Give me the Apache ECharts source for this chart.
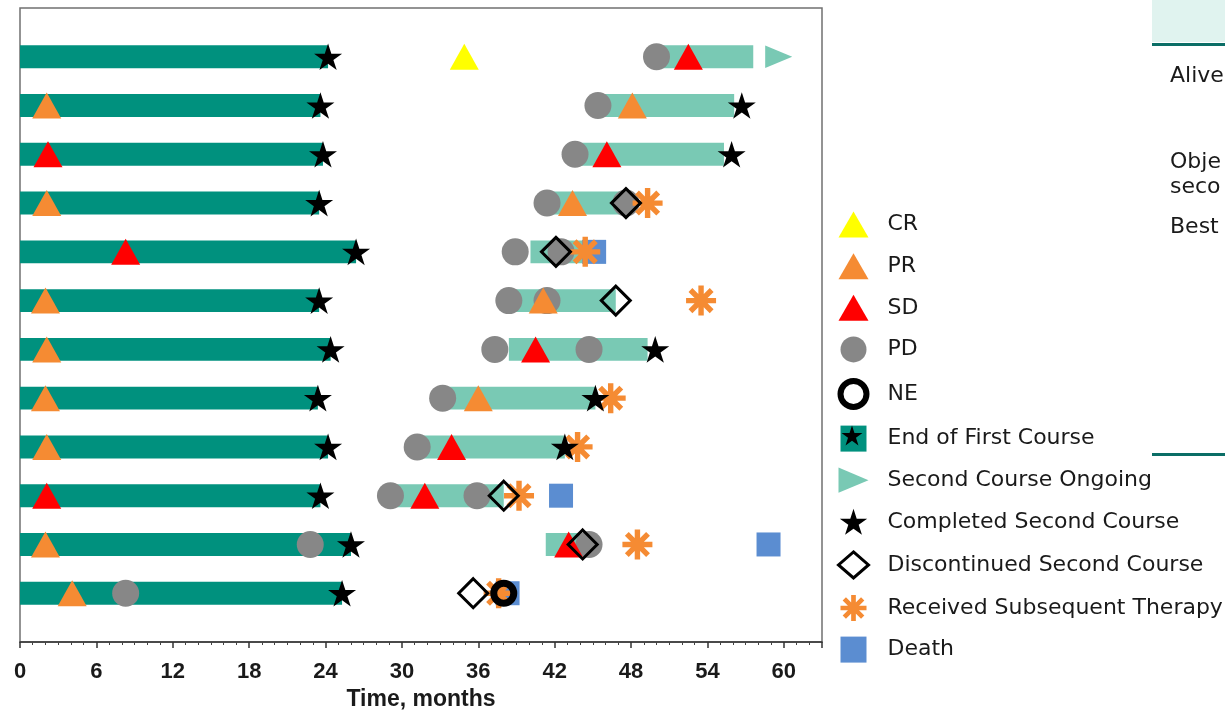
<!DOCTYPE html>
<html>
<head>
<meta charset="utf-8">
<script src="https://cdn.jsdelivr.net/npm/echarts@6/dist/echarts.min.js"></script>
<style>
html,body{margin:0;padding:0;background:#fff;}
#chart{width:1225px;height:711px;}
</style>
</head>
<body>
<div id="chart"></div>
<script>
// ---- data (months, patient row 1..12 from top) ----
const firstCourseEnd = [24.2, 23.6, 23.8, 23.5, 26.4, 23.5, 24.4, 23.4, 24.2, 23.6, 26.0, 25.3];
const secondCourse = [ // [start, end, row]
  [50.0, 57.6, 1], [45.4, 56.1, 2], [43.6, 55.3, 3], [41.4, 47.4, 4], [40.1, 46.0, 5],
  [38.4, 46.8, 6], [38.4, 49.3, 7], [33.2, 45.2, 8], [31.2, 42.8, 9], [29.1, 38.0, 10],
  [41.3, 44.0, 11]
];
const crPoints = [[34.9, 1]];
const prPoints = [[2.1, 2], [2.1, 4], [2.0, 6], [2.1, 7], [2.0, 8], [2.1, 9], [2.0, 11], [4.1, 12],
  [48.1, 2], [43.4, 4], [41.1, 6], [36.0, 8]];
const sdPoints = [[2.2, 3], [8.3, 5], [2.1, 10], [52.5, 1], [46.1, 3], [40.5, 7], [33.9, 9], [31.8, 10], [43.1, 11]];
const pdPoints = [[50.0, 1], [45.4, 2], [43.6, 3], [41.4, 4], [47.6, 4], [38.9, 5], [42.5, 5], [38.4, 6], [41.4, 6],
  [37.3, 7], [44.7, 7], [33.2, 8], [31.2, 9], [29.1, 10], [35.9, 10], [22.8, 11], [44.7, 11], [8.3, 12]];
const nePoints = [[38.0, 12]];
const ongoingPoints = [[59.6, 1]];
const completedPoints = [[56.7, 2], [55.9, 3], [49.9, 7], [45.2, 8], [42.8, 9]];
const discontinuedPoints = [[47.6, 4], [42.1, 5], [46.8, 6], [38.0, 10], [44.2, 11], [35.6, 12]];
const subsequentPoints = [[49.3, 4], [44.4, 5], [53.5, 6], [46.4, 8], [43.8, 9], [39.2, 10], [48.5, 11], [37.6, 12]];
const deathPoints = [[45.1, 5], [42.5, 10], [58.8, 11], [38.3, 12]];
const xTickValues = [0, 6, 12, 18, 24, 30, 36, 42, 48, 54, 60];
const xTitle = 'Time, months';
const legendNames = ['CR', 'PR', 'SD', 'PD', 'NE', 'End of First Course', 'Second Course Ongoing',
  'Completed Second Course', 'Discontinued Second Course', 'Received Subsequent Therapy', 'Death'];
const tableTexts = ['Alive', 'Obje', 'seco', 'Best'];

// ---- styles ----
const C = {
  dark: '#00917e', light: '#79c9b4', gray: '#878787', orange: '#f58b33', red: '#ff0000',
  yellow: '#ffff00', blue: '#5b8dd1', black: '#000000'
};
const STAR_PTS = [[50, 0], [61.17, 34.63], [97.55, 34.55], [68.07, 55.87], [79.39, 90.45], [50, 69],
  [20.61, 90.45], [31.93, 55.87], [2.45, 34.55], [38.83, 34.63]];
const STAR = 'M' + STAR_PTS.map(p => p[0] + ' ' + p[1]).join('L') + 'Z';
const ASTER = 'M0 41L100 41L100 59L0 59Z M41 0L59 0L59 100L41 100Z M21 8.28L91.72 79L79 91.72L8.28 21Z M91.72 21L21 91.72L8.28 79L79 8.28Z';
const ARROW = 'M0 8L100 50L0 92Z';
const SQUARE = 'M0 0H100V100H0Z';

const firstData = firstCourseEnd.map((v, i) => [v, i + 1]);

function barRenderer(isFirst) {
  return function (params, api) {
    const row = isFirst ? api.value(1) : api.value(2);
    const x0 = isFirst ? 0 : api.value(0);
    const x1 = isFirst ? api.value(0) : api.value(1);
    const p0 = api.coord([x0, row]);
    const p1 = api.coord([x1, row]);
    const h = api.size([0, 1])[1] * 0.47;
    return {
      type: 'rect',
      shape: { x: p0[0], y: p0[1] - h / 2, width: p1[0] - p0[0], height: h },
      style: api.style()
    };
  };
}

function scatter(name, data, symbol, size, style) {
  return {
    name: name, type: 'scatter', data: data, symbol: symbol, symbolSize: size,
    symbolKeepAspect: true, itemStyle: Object.assign({ opacity: 1 }, style), emphasis: { disabled: true }
  };
}

const chart = echarts.init(document.getElementById('chart'));
const legendFont = 'DejaVu Sans';
const axisFont = 'Liberation Sans';

const legendItemH = 26, legendStep = 42.4, legendFirstCenter = 223, legendLeft = 837, legendItemW = 30;
const legendTop = legendFirstCenter - 11.4;
const endIdx = legendNames.indexOf('End of First Course');
const starCy = legendFirstCenter + 1 + endIdx * legendStep;
const starCx = legendLeft + legendItemW / 2;
const starIcon = STAR_PTS.map(p => [starCx - 11 + p[0] * 0.22, starCy - 10.5 + p[1] * 0.22]);

chart.setOption({
  animation: false,
  grid: { left: 20, right: 403, top: 8, bottom: 69, outerBoundsMode: 'none', containLabel: false,
    show: true, borderColor: '#707070', borderWidth: 1.5, backgroundColor: '#fff' },
  xAxis: {
    type: 'value', min: 0, max: 63, interval: 6, position: 'bottom',
    axisLine: { show: true, onZero: false, lineStyle: { color: '#333', width: 1.5 } },
    axisTick: { show: true, length: 6, lineStyle: { color: '#333', width: 1.5 } },
    minorTick: { show: true, splitNumber: 6, length: 3, lineStyle: { color: '#444', width: 1 } },
    axisLabel: {
      fontFamily: axisFont, fontWeight: 'bold', fontSize: 22, color: '#1a1a1a', margin: 19,
      showMaxLabel: false,
      formatter: v => (xTickValues.indexOf(v) >= 0 ? String(v) : '')
    },
    splitLine: { show: false }, minorSplitLine: { show: false },
    name: xTitle, nameLocation: 'middle', nameGap: 44,
    nameTextStyle: { fontFamily: axisFont, fontWeight: 'bold', fontSize: 23, color: '#1a1a1a' }
  },
  yAxis: { type: 'value', min: 0, max: 13, inverse: true, show: false, splitLine: { show: false } },
  legend: {
    orient: 'vertical', left: legendLeft, top: legendTop, padding: 0,
    itemWidth: legendItemW, itemHeight: legendItemH, itemGap: legendStep - 26.8,
    selectedMode: false,
    textStyle: { fontFamily: legendFont, fontSize: 22, color: '#1a1a1a', lineHeight: 26, padding: [0, 0, 0, 14] },
    data: [
      { name: 'CR' }, { name: 'PR' }, { name: 'SD' }, { name: 'PD' },
      { name: 'NE', itemStyle: { color: 'rgba(0,0,0,0)', borderColor: '#000', borderWidth: 6 } },
      { name: 'End of First Course', icon: 'path://' + SQUARE, itemStyle: { color: C.dark } },
      { name: 'Second Course Ongoing' },
      { name: 'Completed Second Course' },
      { name: 'Discontinued Second Course', itemStyle: { color: 'rgba(0,0,0,0)', borderColor: '#000', borderWidth: 3 } },
      { name: 'Received Subsequent Therapy' },
      { name: 'Death', icon: 'path://' + SQUARE }
    ]
  },
  graphic: [
    { type: 'polygon', shape: { points: starIcon }, style: { fill: '#000' }, z: 100 },
    { type: 'rect', shape: { x: 1152, y: 0, width: 80, height: 42 }, style: { fill: '#e0f3ef' } },
    { type: 'rect', shape: { x: 1152, y: 43, width: 80, height: 3 }, style: { fill: '#0b6e66' } },
    { type: 'rect', shape: { x: 1152, y: 453, width: 80, height: 3 }, style: { fill: '#0b6e66' } },
    { type: 'text', x: 1170, y: 76, style: { text: tableTexts[0], font: '22px "DejaVu Sans"', fill: '#1a1a1a', verticalAlign: 'middle' } },
    { type: 'text', x: 1170, y: 162, style: { text: tableTexts[1], font: '22px "DejaVu Sans"', fill: '#1a1a1a', verticalAlign: 'middle' } },
    { type: 'text', x: 1170, y: 187, style: { text: tableTexts[2], font: '22px "DejaVu Sans"', fill: '#1a1a1a', verticalAlign: 'middle' } },
    { type: 'text', x: 1170, y: 227, style: { text: tableTexts[3], font: '22px "DejaVu Sans"', fill: '#1a1a1a', verticalAlign: 'middle' } }
  ],
  series: [
    { name: 'End of First Course', type: 'custom', data: firstData, encode: { x: 0, y: 1 },
      renderItem: barRenderer(true), itemStyle: { color: C.dark } },
    { name: 'Second Course', type: 'custom', data: secondCourse, encode: { x: [0, 1], y: 2 },
      renderItem: barRenderer(false), itemStyle: { color: C.light } },
    scatter('Death', deathPoints, 'rect', 24, { color: C.blue }),
    scatter('PD', pdPoints, 'circle', 27, { color: C.gray }),
    scatter('CR', crPoints, 'triangle', [29, 26], { color: C.yellow }),
    scatter('PR', prPoints, 'triangle', [29, 26], { color: C.orange }),
    scatter('SD', sdPoints, 'triangle', [29, 26], { color: C.red }),
    scatter('Received Subsequent Therapy', subsequentPoints, 'path://' + ASTER, 30, { color: C.orange }),
    scatter('Discontinued Second Course', discontinuedPoints, 'diamond', 29, { color: 'rgba(0,0,0,0)', borderColor: '#000', borderWidth: 3 }),
    scatter('NE', nePoints, 'circle', 20, { color: 'rgba(0,0,0,0)', borderColor: '#000', borderWidth: 7 }),
    scatter('End of First Course', firstData, 'path://' + STAR, 28, { color: C.black }),
    scatter('Completed Second Course', completedPoints, 'path://' + STAR, 28, { color: C.black }),
    scatter('Second Course Ongoing', ongoingPoints, 'path://' + ARROW, 27, { color: C.light })
  ]
});
</script>
</body>
</html>
